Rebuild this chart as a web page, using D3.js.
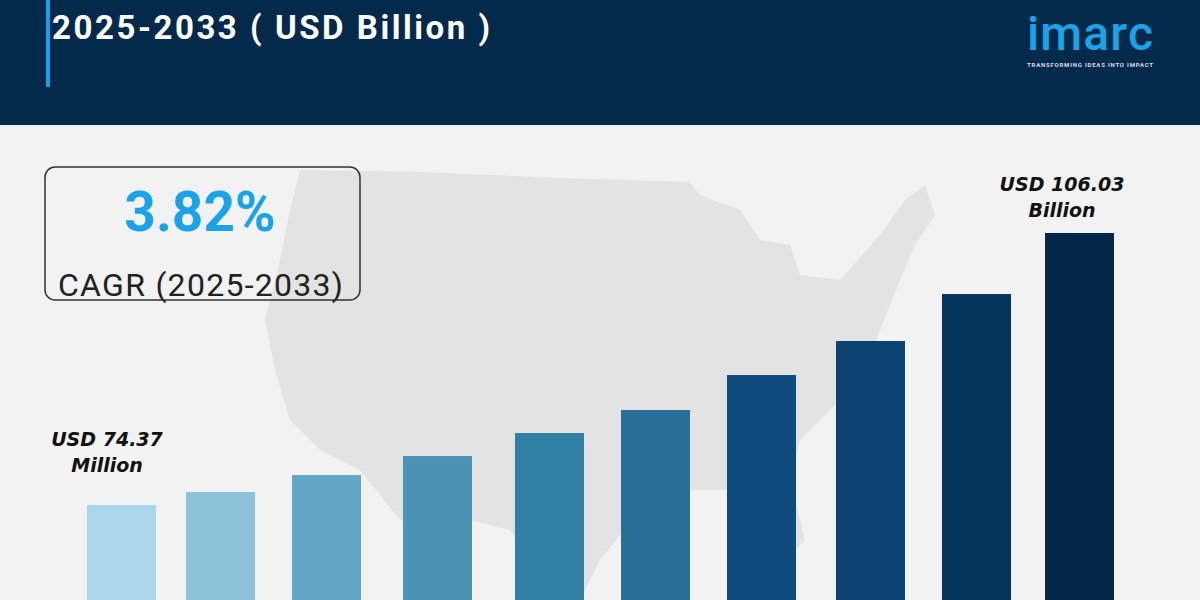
<!DOCTYPE html>
<html><head><meta charset="utf-8">
<script src="https://cdn.jsdelivr.net/npm/d3@7"></script>
<style>body{margin:0;background:#f2f2f2}svg{display:block}</style>
</head><body><svg id="chart"></svg>
<script>
const years = ['2024','2025','2026','2027','2028','2029','2030','2031','2032','2033'];
const values = [74.37, 75.88, 77.86, 80.07, 82.75, 85.43, 89.5, 93.46, 98.93, 106.03];
const colors = ['#a9d6e8','#8cc3da','#63a7c6','#4b93b7','#3380a7','#2a6f97','#0e4c80','#0a4272','#06365e','#05284a'];

const W = 1200, H = 600;
const svg = d3.select('#chart').attr('width', W).attr('height', H);
svg.append('rect').attr('width', W).attr('height', H).attr('fill', '#f2f2f2');

// rough map silhouette in the background
const map = [[300,170],[420,172],[560,178],[690,182],[700,195],[740,210],[760,240],[790,245],[800,275],[840,280],[880,235],[905,200],[925,185],[935,215],[915,245],[900,280],[880,330],[860,380],[830,410],[800,440],[790,480],[805,540],[790,555],[770,520],[740,490],[690,490],[640,510],[600,560],[580,600],[540,580],[510,530],[470,520],[440,540],[400,520],[360,470],[320,450],[290,420],[275,370],[265,320],[280,260],[290,210]];
svg.append('path').attr('d', d3.line()(map) + 'Z').attr('fill', '#e3e3e3');

// header
svg.append('rect').attr('width', W).attr('height', 125).attr('fill', '#032a4a');
svg.append('rect').attr('x', 46).attr('y', 0).attr('width', 4).attr('height', 87).attr('fill', '#1a9be8');
svg.append('text').attr('x', 52).attr('y', 39).attr('fill', '#fff').attr('textLength', 438)
  .style('font', '700 33px Roboto').text('2025-2033 ( USD Billion )');
svg.append('text').attr('x', 1090).attr('y', 50).attr('text-anchor', 'middle').attr('fill', '#1aa3e8')
  .style('font', '500 48px Roboto').attr('textLength', 126).text('imarc');
svg.append('text').attr('x', 1090).attr('y', 67).attr('text-anchor', 'middle').attr('fill', '#dde')
  .style('font', '700 6px Roboto').attr('textLength', 126).text('TRANSFORMING IDEAS INTO IMPACT');

// CAGR box
svg.append('rect').attr('x', 45).attr('y', 167).attr('width', 315).attr('height', 133).attr('rx', 10)
  .attr('fill', 'none').attr('stroke', '#333').attr('stroke-width', 1.5);
svg.append('text').attr('x', 200).attr('y', 231).attr('text-anchor', 'middle').attr('fill', '#1aa3e8')
  .style('font', '700 55px Roboto').text('3.82%');
svg.append('text').attr('x', 58).attr('y', 296).attr('fill', '#222').attr('textLength', 285)
  .style('font', '400 32px Roboto').text('CAGR (2025-2033)');

// bars
const bandX = [87,186,292,403,515,621,727,836,942,1045];
const x = d3.scaleOrdinal().domain(years).range(bandX);
const y = d3.scaleLinear().domain([74.37, 106.03]).range([505, 233]);
svg.append('g').selectAll('rect').data(values).join('rect')
  .attr('x', (d, i) => x(years[i])).attr('width', 69)
  .attr('y', d => y(d)).attr('height', d => H - y(d))
  .attr('fill', (d, i) => colors[i]);

// end labels
const lab = (cx, y1, l1, l2) => {
  const t = svg.append('text').attr('text-anchor', 'middle').attr('fill', '#111')
    .style('font', 'italic 700 19px "DejaVu Sans"');
  t.append('tspan').attr('x', cx).attr('y', y1).text(l1);
  t.append('tspan').attr('x', cx).attr('y', y1 + 26).text(l2);
};
lab(107, 446, 'USD 74.37', 'Million');
lab(1062, 191, 'USD 106.03', 'Billion');
</script></body></html>
